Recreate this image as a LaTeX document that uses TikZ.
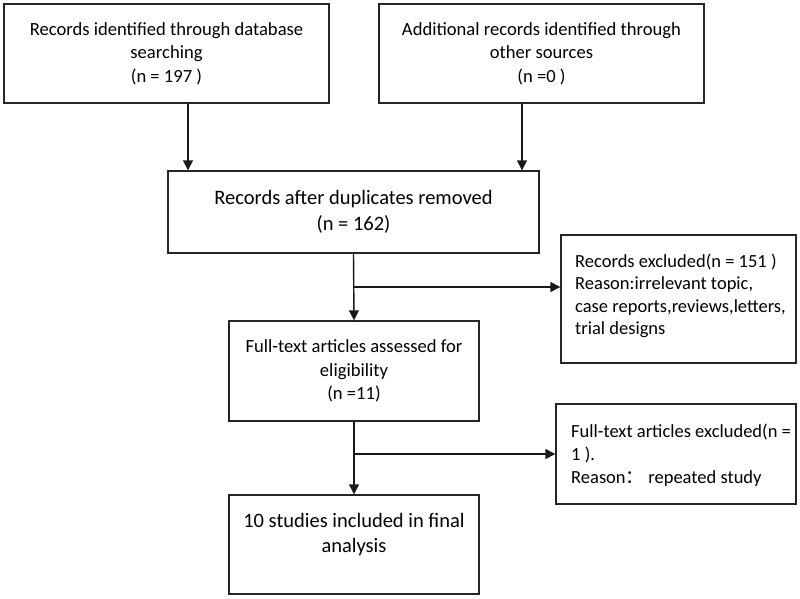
\documentclass[tikz,border=0pt]{standalone}
\usepackage{fontspec}
\setmainfont{Carlito}
\newfontfamily\cjk{Noto Sans CJK SC}
\usetikzlibrary{arrows.meta}
\tikzset{
  box/.style={draw=black!85, line width=1.4pt, rectangle, inner sep=0pt, align=center},
  txt/.style={inner sep=0pt},
  conn/.style={draw=black!90, line width=1.4pt},
  arr/.style={conn, -{Triangle[length=10pt,width=10pt]}},
}
\begin{document}
\begin{tikzpicture}[x=1pt,y=-1pt]
\useasboundingbox (0,0) rectangle (800,599);
\fill[white] (0,0) rectangle (800,599);

\node[box, minimum width=325pt, minimum height=99pt, font=\fontsize{18.6}{23.5}\selectfont] (b1) at (166.5,53.5)
  {Records identified through database\\searching\\(n = 197 )};
\node[box, minimum width=325pt, minimum height=99pt, font=\fontsize{18.6}{23.5}\selectfont] (b2) at (541.5,53.5)
  {Additional records identified through\\other sources\\(n =0 )};
\node[box, minimum width=371pt, minimum height=82pt, font=\fontsize{20.5}{26}\selectfont] (b3) at (353.5,212)
  {Records after duplicates removed\\(n = 162)};
\node[box, minimum width=235pt, minimum height=128pt] (b4) at (678.5,299) {};
\node[txt, anchor=north west, align=left, font=\fontsize{18.5}{22.4}\selectfont] (t4) at (575,253.5)
  {Records excluded(n = 151 )\\Reason:irrelevant topic,\\case reports,reviews,letters,\\trial designs};
\node[box, minimum width=250pt, minimum height=100pt, font=\fontsize{18.6}{23.5}\selectfont] (b5) at (354,371)
  {Full-text articles assessed for\\eligibility\\(n =11)};
\node[box, minimum width=240pt, minimum height=100pt] (b6) at (676,454) {};
\node[txt, anchor=north west, align=left, font=\fontsize{18.5}{23}\selectfont] (t6) at (571,423.5)
  {Full-text articles excluded(n =\\1 ).\\Reason{\cjk ：}\ repeated study};
\node[box, minimum width=250pt, minimum height=99pt] (b7) at (354,544.5) {};
\node[txt, anchor=north, align=center, font=\fontsize{20.5}{25}\selectfont] (t7) at (354,513.5)
  {10 studies included in final\\analysis};

\coordinate (x1) at (188,0);
\coordinate (x2) at (522,0);
\coordinate (j1) at (354,287);
\coordinate (j2) at (354,454);

\draw[arr] (b1.south -| x1) -- (b3.north -| x1);
\draw[arr] (b2.south -| x2) -- (b3.north -| x2);
\draw[arr] (b3.south) -- (b5.north);
\draw[arr] (j1) -- (j1 -| b4.west);
\draw[arr] (b5.south) -- (b7.north);
\draw[arr] (j2) -- (j2 -| b6.west);
\end{tikzpicture}
\end{document}
